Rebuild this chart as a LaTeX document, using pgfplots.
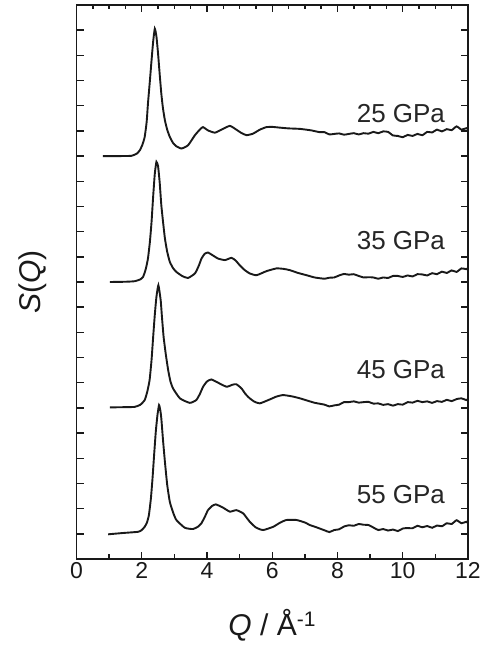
\documentclass[border=0pt]{standalone}
\usepackage{fontspec}
\setmainfont{Liberation Sans}
\usepackage{pgfplots}
\pgfplotsset{compat=1.18}
\usepackage{pgfplotstable}

% S(Q), each without its vertical offset
\pgfplotstableread{
0.81 0.00
1.20 0.00
1.68 0.01
1.85 0.10
1.94 0.23
2.02 0.45
2.09 0.76
2.15 1.35
2.19 2.08
2.25 3.00
2.30 3.80
2.35 4.55
2.40 5.06
2.45 4.75
2.50 4.07
2.55 3.25
2.60 2.48
2.65 1.90
2.71 1.42
2.78 1.05
2.86 0.76
2.96 0.52
3.06 0.39
3.22 0.30
3.42 0.43
3.63 0.83
3.80 1.08
3.88 1.15
4.03 1.02
4.24 0.93
4.44 1.05
4.70 1.20
4.90 1.05
5.05 0.92
5.21 0.83
5.41 0.89
5.62 1.05
5.82 1.15
6.00 1.16
6.23 1.13
6.50 1.10
6.85 1.08
7.20 1.02
7.45 0.95
7.60 0.95
7.75 0.86
7.90 0.88
8.05 0.90
8.20 0.85
8.35 0.88
8.50 0.91
8.65 0.86
8.80 0.91
8.95 0.89
9.10 0.96
9.25 0.91
9.40 0.98
9.55 0.96
9.70 0.82
9.85 0.80
10.00 0.75
10.15 0.84
10.30 0.80
10.45 0.88
10.60 0.83
10.75 0.96
10.90 0.94
11.05 1.05
11.20 0.98
11.35 1.07
11.50 1.03
11.65 1.18
11.80 1.05
11.95 1.11
12.00 1.06
}\sqA

\pgfplotstableread{
1.02 0.00
1.50 0.01
1.78 0.03
1.95 0.10
2.04 0.20
2.12 0.50
2.19 0.93
2.25 1.60
2.30 2.38
2.35 3.40
2.40 4.30
2.45 4.77
2.50 4.60
2.55 3.95
2.60 3.05
2.66 2.30
2.71 1.73
2.78 1.20
2.86 0.80
2.96 0.55
3.06 0.40
3.25 0.23
3.42 0.16
3.63 0.34
3.75 0.65
3.83 0.93
3.93 1.12
4.03 1.17
4.15 1.08
4.34 0.93
4.55 0.87
4.75 0.96
4.88 0.85
5.00 0.67
5.15 0.48
5.31 0.34
5.52 0.27
5.82 0.43
6.13 0.54
6.35 0.52
6.54 0.47
6.79 0.36
7.05 0.27
7.30 0.18
7.60 0.13
7.75 0.17
7.90 0.18
8.05 0.26
8.20 0.32
8.35 0.29
8.50 0.31
8.65 0.24
8.80 0.18
8.95 0.19
9.10 0.18
9.25 0.13
9.40 0.18
9.55 0.16
9.70 0.24
9.85 0.24
10.00 0.20
10.15 0.26
10.30 0.22
10.45 0.31
10.60 0.30
10.75 0.26
10.90 0.35
11.05 0.31
11.20 0.41
11.35 0.36
11.50 0.46
11.65 0.40
11.80 0.54
11.95 0.51
12.00 0.55
}\sqB

\pgfplotstableread{
1.02 0.02
1.50 0.03
1.78 0.04
1.95 0.12
2.09 0.31
2.17 0.65
2.24 1.10
2.30 1.90
2.35 2.82
2.40 3.70
2.45 4.41
2.51 4.87
2.58 4.28
2.62 3.60
2.67 2.82
2.74 2.10
2.81 1.50
2.88 1.05
2.96 0.77
3.17 0.38
3.47 0.20
3.67 0.31
3.78 0.55
3.88 0.84
4.00 1.05
4.13 1.13
4.34 1.00
4.60 0.84
4.78 0.92
4.90 0.94
5.06 0.77
5.18 0.55
5.31 0.38
5.45 0.25
5.62 0.18
5.93 0.34
6.13 0.45
6.33 0.51
6.60 0.46
6.85 0.38
7.10 0.28
7.31 0.20
7.60 0.13
7.75 0.06
7.90 0.10
8.05 0.13
8.20 0.23
8.35 0.23
8.50 0.26
8.65 0.21
8.80 0.23
8.95 0.24
9.10 0.17
9.25 0.18
9.40 0.12
9.55 0.15
9.70 0.09
9.85 0.15
10.00 0.13
10.15 0.23
10.30 0.21
10.45 0.28
10.60 0.23
10.75 0.26
10.90 0.20
11.05 0.27
11.20 0.24
11.35 0.32
11.50 0.27
11.65 0.35
11.80 0.38
11.95 0.31
12.00 0.36
}\sqC

\pgfplotstableread{
0.97 -0.02
1.40 0.03
1.89 0.08
2.00 0.15
2.09 0.28
2.16 0.45
2.22 0.75
2.28 1.40
2.33 2.20
2.38 3.15
2.43 4.05
2.48 4.70
2.53 5.11
2.57 4.90
2.60 4.58
2.65 3.75
2.71 2.86
2.78 1.95
2.86 1.27
2.96 0.85
3.06 0.55
3.32 0.24
3.57 0.19
3.72 0.28
3.83 0.42
3.95 0.72
4.03 0.94
4.15 1.10
4.27 1.17
4.49 1.04
4.70 0.88
4.90 0.94
5.11 0.81
5.31 0.48
5.50 0.25
5.72 0.15
6.03 0.28
6.25 0.45
6.44 0.55
6.74 0.55
7.00 0.45
7.15 0.35
7.31 0.28
7.60 0.14
7.75 0.07
7.90 0.15
8.05 0.18
8.20 0.29
8.35 0.34
8.50 0.32
8.65 0.39
8.80 0.36
8.95 0.35
9.10 0.25
9.25 0.15
9.40 0.19
9.55 0.13
9.70 0.17
9.85 0.11
10.00 0.21
10.15 0.23
10.30 0.22
10.45 0.32
10.60 0.26
10.75 0.31
10.90 0.24
11.05 0.33
11.20 0.30
11.35 0.42
11.50 0.39
11.65 0.54
11.80 0.42
11.95 0.48
12.00 0.42
}\sqD

\pgfplotsset{
  frame/.style={
    at={(0,0)}, anchor=south west,
    width=391.5pt, height=554pt, scale only axis,
    xmin=0, xmax=12, ymin=0, ymax=22,
    tick align=inside,
    axis line style={line width=1.8pt, black!90},
    tick style={line width=1.4pt, black!90},
    major tick length=7pt, minor tick length=4.5pt,
  },
  curve/.style={black!90, line width=1.9pt, no markers, smooth, tension=0.3},
}

\begin{document}
\begin{tikzpicture}
\path[use as bounding box] (-76.5pt,-86pt) rectangle (403.5pt,559pt);

% top ticks every 0.5
\begin{axis}[frame,
  xtick pos=right, xtick={0,2,...,12}, xticklabels={},
  minor xtick={0.5,1,...,12}, ytick=\empty]
\end{axis}

\begin{axis}[frame,
  xtick pos=left, ytick pos=both,
  xtick={0,2,...,12}, minor xtick={1,3,...,11},
  ytick={0,...,22}, yticklabels={},
  /pgf/number format/assume math mode=true,
  ticklabel style={font=\fontsize{23}{23}\selectfont, black!90},
  label style={font=\fontsize{30}{30}\selectfont, black!90},
  xlabel={\textit{Q} / Å\textsuperscript{-1}},
  ylabel={\textit{S}(\textit{Q})},
  xlabel style={at={(axis description cs:0.5,-0.119)}, anchor=center},
  ylabel style={at={(axis description cs:-0.111,0.5)}, anchor=center},
]
\addplot[curve] table[x index=0, y expr=\thisrowno{1}+16] {\sqA};
\addplot[curve] table[x index=0, y expr=\thisrowno{1}+11] {\sqB};
\addplot[curve] table[x index=0, y expr=\thisrowno{1}+6] {\sqC};
\addplot[curve] table[x index=0, y expr=\thisrowno{1}+1] {\sqD};

\begin{scope}[every node/.style={anchor=east, inner sep=0pt,
    font=\fontsize{26}{26}\selectfont, text=black!85}]
\node at (axis cs:11.3,17.70) {25 GPa};
\node at (axis cs:11.3,12.63) {35 GPa};
\node at (axis cs:11.3,7.53) {45 GPa};
\node at (axis cs:11.3,2.57) {55 GPa};
\end{scope}
\end{axis}
\end{tikzpicture}
\end{document}
